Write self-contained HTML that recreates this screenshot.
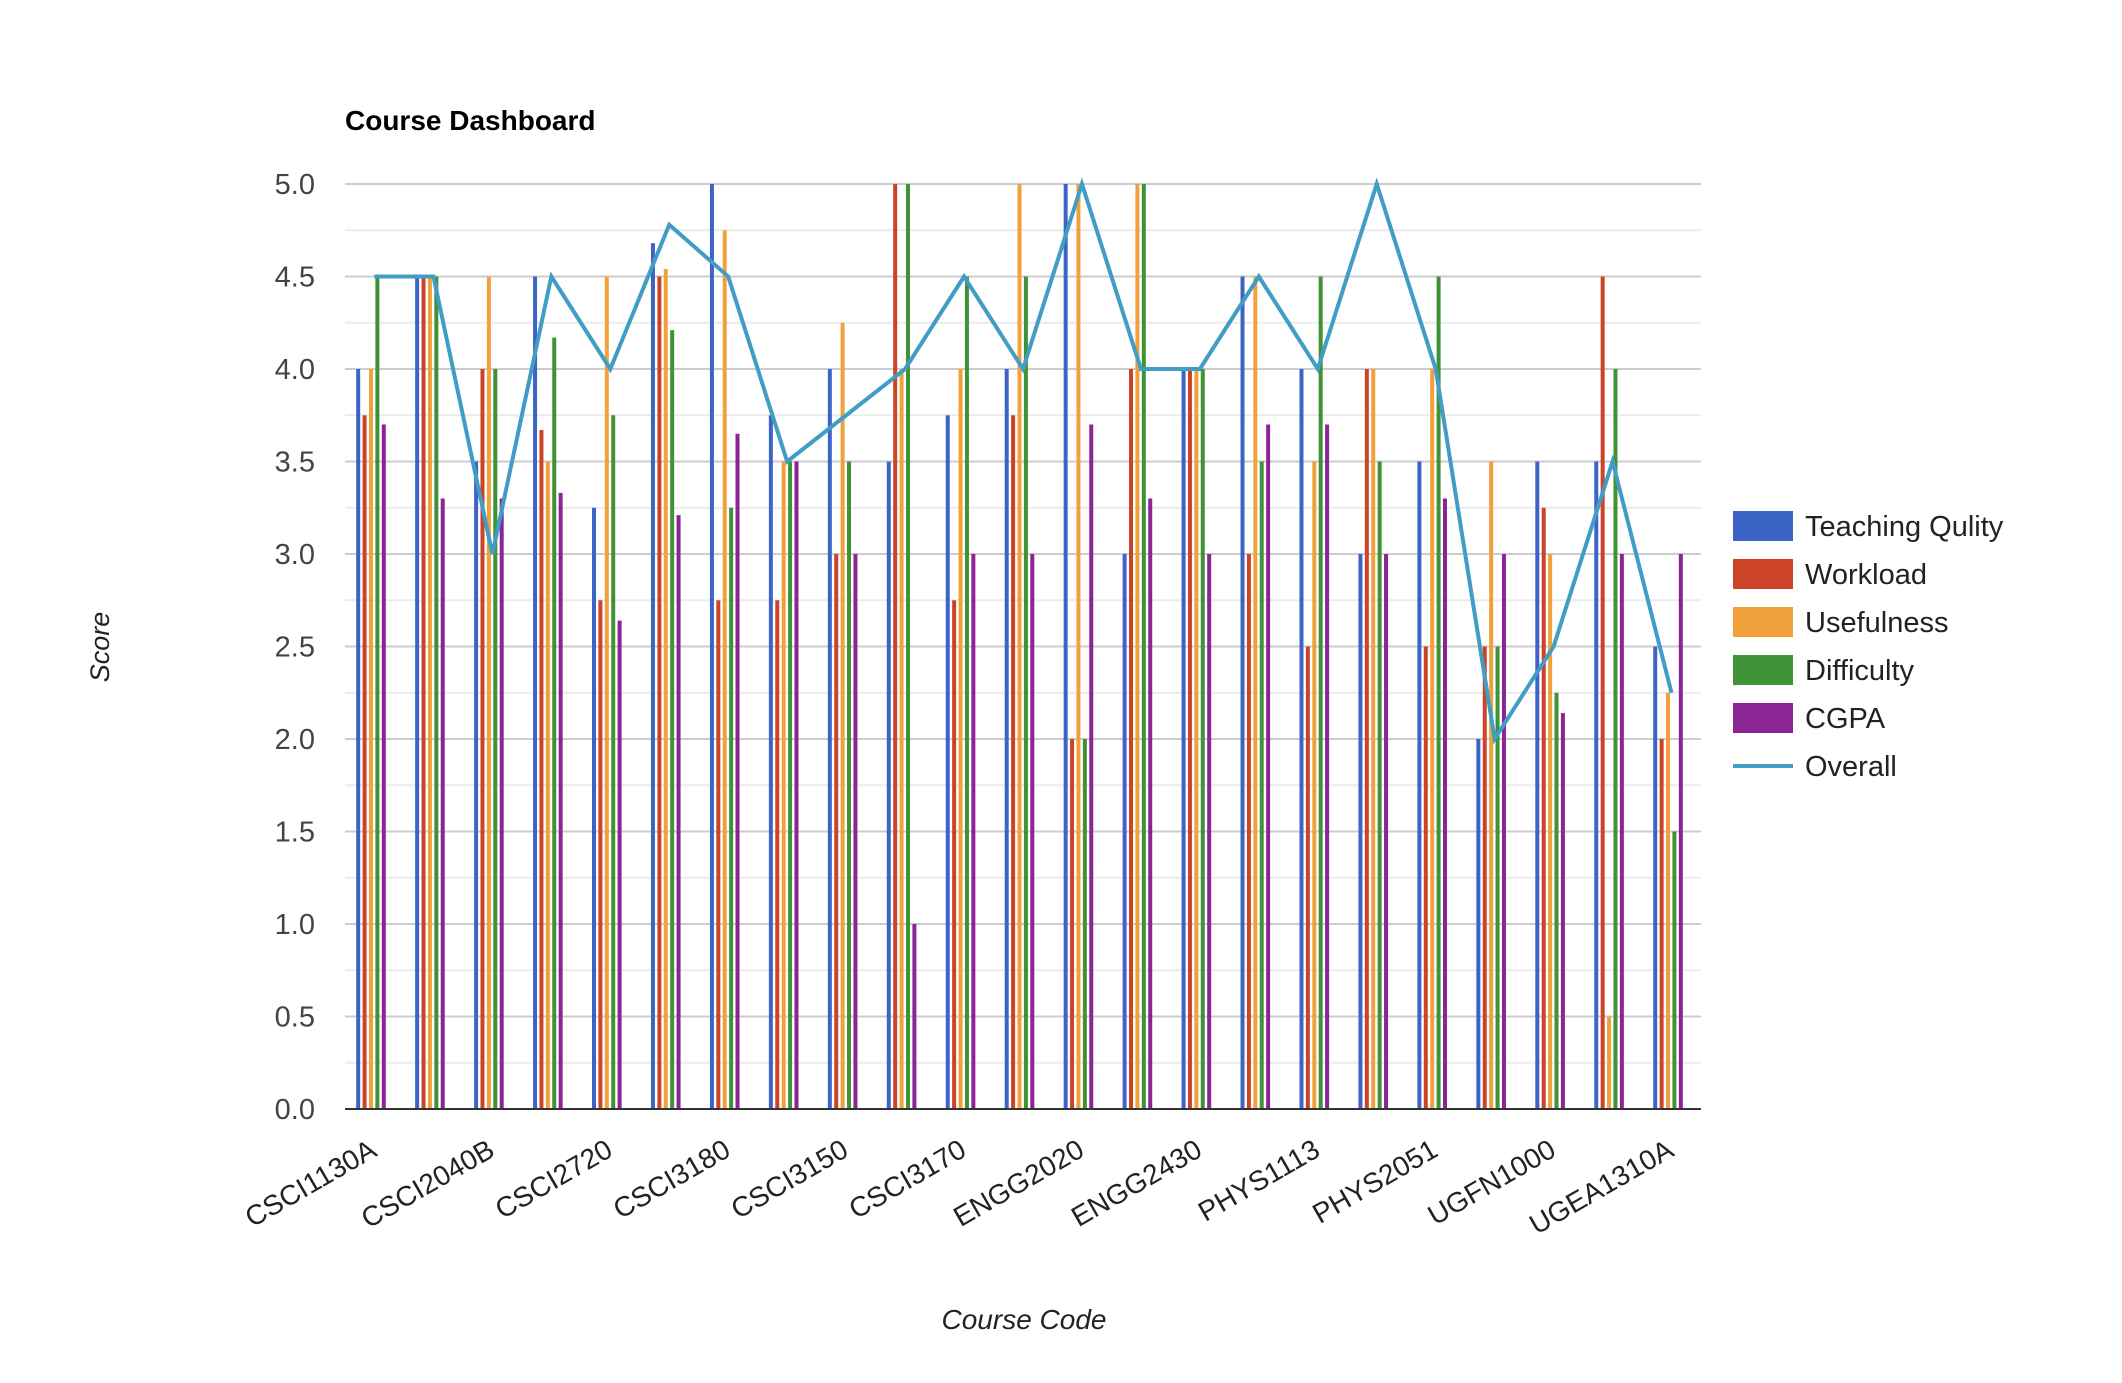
<!DOCTYPE html>
<html><head><meta charset="utf-8"><style>
html,body{margin:0;padding:0;background:#fff;}
svg{display:block;font-family:"Liberation Sans",Arial,sans-serif;}
</style></head><body>
<svg id="chart" width="2122" height="1383" viewBox="0 0 2122 1383" xmlns="http://www.w3.org/2000/svg">
<text x="345" y="130" font-size="28" font-weight="bold" fill="#000">Course Dashboard</text>
<g id="grid"></g><g id="bars"></g><g id="line"></g><g id="axes"></g><g id="legend"></g>
<text transform="translate(109,647) rotate(-90)" text-anchor="middle" font-size="27" font-style="italic" fill="#222">Score</text>
<text x="1024" y="1329" text-anchor="middle" font-size="28" font-style="italic" fill="#222">Course Code</text>
</svg>
<script>
const categories = ["CSCI1130A","CSCI1130B","CSCI2040B","CSCI2100A","CSCI2720","CSCI3100","CSCI3180","CSCI3250","CSCI3150","CSCI3160","CSCI3170","CSCI3230","ENGG2020","ENGG2440","ENGG2430","ENGG2760","PHYS1113","PHYS1114","PHYS2051","UGEB2530","UGFN1000","UGEA2100","UGEA1310A"];
const teaching   = [4.0,4.5,3.5,4.5,3.25,4.68,5.0,3.75,4.0,3.5,3.75,4.0,5.0,3.0,4.0,4.5,4.0,3.0,3.5,2.0,3.5,3.5,2.5];
const workload   = [3.75,4.5,4.0,3.67,2.75,4.5,2.75,2.75,3.0,5.0,2.75,3.75,2.0,4.0,4.0,3.0,2.5,4.0,2.5,2.5,3.25,4.5,2.0];
const usefulness = [4.0,4.5,4.5,3.5,4.5,4.54,4.75,3.5,4.25,4.0,4.0,5.0,5.0,5.0,4.0,4.5,3.5,4.0,4.0,3.5,3.0,0.5,2.25];
const difficulty = [4.5,4.5,4.0,4.17,3.75,4.21,3.25,3.5,3.5,5.0,4.5,4.5,2.0,5.0,4.0,3.5,4.5,3.5,4.5,2.5,2.25,4.0,1.5];
const cgpa       = [3.7,3.3,3.3,3.33,2.64,3.21,3.65,3.5,3.0,1.0,3.0,3.0,3.7,3.3,3.0,3.7,3.7,3.0,3.3,3.0,2.14,3.0,3.0];
const overall    = [4.5,4.5,3.0,4.5,4.0,4.78,4.5,3.5,3.75,4.0,4.5,4.0,5.0,4.0,4.0,4.5,4.0,5.0,4.0,2.0,2.5,3.5,2.25];
const yTicks = ["0.0","0.5","1.0","1.5","2.0","2.5","3.0","3.5","4.0","4.5","5.0"];
const seriesNames = ["Teaching Qulity","Workload","Usefulness","Difficulty","CGPA","Overall"];

const NS="http://www.w3.org/2000/svg";
const L=345,R=1701,T=184,B=1109,YMAX=5;
const colors=["#3c64c6","#cb4428","#f1a13c","#3f9236","#8b2494"];
const lineColor="#429dc6";
const bw=(R-L)/categories.length;
const y=v=>B-(v/YMAX)*(B-T);
const xc=i=>L+bw*(i+0.5);
function mk(tag,attrs,parent){const e=document.createElementNS(NS,tag);for(const k in attrs)e.setAttribute(k,attrs[k]);parent.appendChild(e);return e;}
const grid=document.getElementById('grid');
for(let k=1;k<=20;k++){const v=k*0.25;
 const g=mk('line',{x1:L,x2:R,y1:y(v),y2:y(v),stroke:k%2===0?'#cccccc':'#ebebeb','stroke-width':2},grid);
 
 }
const axes=document.getElementById('axes');
yTicks.forEach(t=>{const tx=mk('text',{x:315,y:y(parseFloat(t))+10,'text-anchor':'end','font-size':29,fill:'#444'},axes);tx.textContent=t;
 
 });
const series=[teaching,workload,usefulness,difficulty,cgpa];
const barsG=document.getElementById('bars');
const step=6.4,barW=4;
categories.forEach((c,i)=>{series.forEach((s,j)=>{
 const x=xc(i)-3.5+(j-2)*step-barW/2;
 const r=mk('rect',{x:x,y:y(s[i]),width:barW,height:B-y(s[i]),fill:colors[j]},barsG);
 
 });});
const base=mk('line',{x1:L,x2:R,y1:B,y2:B,stroke:'#333','stroke-width':2},axes);


categories.forEach((c,i)=>{if(i%2)return;
 const tx=mk('text',{transform:`translate(${xc(i)+4},${B+46}) rotate(-30)`,'text-anchor':'end','font-size':28,fill:'#222'},axes);
 tx.textContent=c;
 
 });
const pts=overall.map((v,i)=>xc(i)+','+y(v)).join(' ');
const pl=mk('polyline',{points:pts,fill:'none',stroke:lineColor,'stroke-width':4,'stroke-linejoin':'miter'},document.getElementById('line'));


const leg=document.getElementById('legend');
seriesNames.forEach((n,j)=>{const cy=526+j*48;
 const g=mk('g',{},leg);
 
 
 if(j<5)mk('rect',{x:1733,y:cy-15,width:60,height:30,fill:colors[j]},g);
 else mk('rect',{x:1733,y:cy-2,width:60,height:4,fill:lineColor},g);
 const t=mk('text',{x:1805,y:cy+10,'font-size':29,fill:'#222'},g);t.textContent=n;});
</script>
</body></html>
